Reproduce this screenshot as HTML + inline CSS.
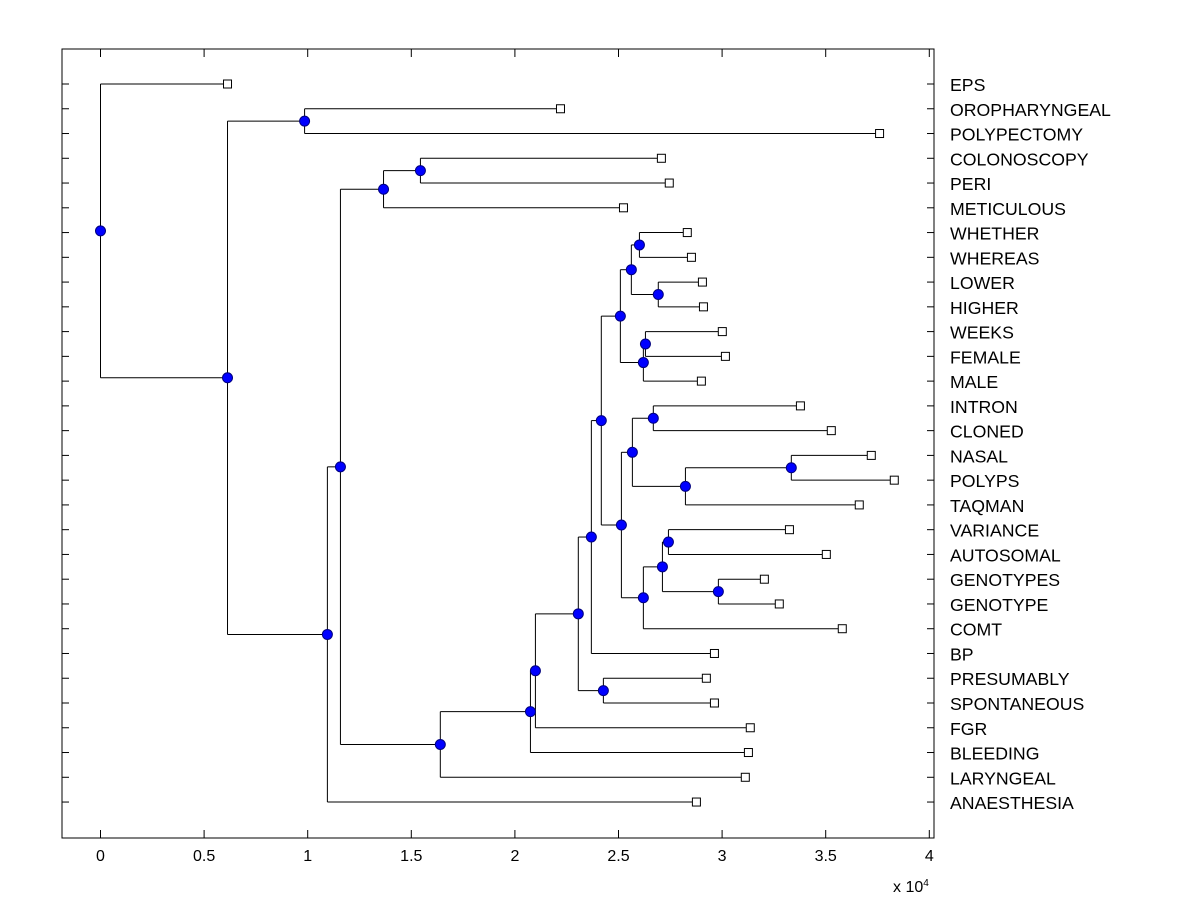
<!DOCTYPE html>
<html><head><meta charset="utf-8"><style>
body{margin:0;background:#fff}
svg text{font-family:"Liberation Sans",Arial,sans-serif;font-size:16px;fill:#000}
svg text.lbl{font-size:17.7px}
</style></head><body>
<svg id="c" width="1200" height="900">
<rect x="0" y="0" width="1200" height="900" fill="#fff"/>
</svg>
<script>
const labels=["EPS","OROPHARYNGEAL","POLYPECTOMY","COLONOSCOPY","PERI","METICULOUS","WHETHER","WHEREAS","LOWER","HIGHER","WEEKS","FEMALE","MALE","INTRON","CLONED","NASAL","POLYPS","TAQMAN","VARIANCE","AUTOSOMAL","GENOTYPES","GENOTYPE","COMT","BP","PRESUMABLY","SPONTANEOUS","FGR","BLEEDING","LARYNGEAL","ANAESTHESIA"];
const leafValues=[0.613,2.22,3.76,2.707,2.745,2.524,2.832,2.852,2.905,2.91,3.001,3.016,2.90,3.378,3.527,3.72,3.831,3.662,3.325,3.503,3.204,3.276,3.58,2.963,2.924,2.963,3.136,3.127,3.112,2.876];
// internal nodes: [name, value, child1, child2]; children: leaf index (number) or node name
const nodes=[
["root",0,0,"A"],["A",0.613,"B","C"],["B",0.985,1,2],["C",1.095,"D",29],
["D",1.158,"E","F"],["E",1.366,"G",5],["G",1.544,3,4],["F",1.64,"H",28],
["H",2.075,"I",27],["I",2.099,"J",26],["J",2.306,"K","L"],["L",2.427,24,25],
["K",2.369,"M",23],["M",2.417,"N","O"],["N",2.509,"P","Q"],["P",2.562,"R","S"],
["R",2.601,6,7],["S",2.692,8,9],["Q",2.62,"T",12],["T",2.63,10,11],
["O",2.514,"U","V"],["U",2.567,"W","X"],["W",2.668,13,14],["X",2.823,"Y",17],
["Y",3.334,15,16],["V",2.62,"Z",22],["Z",2.712,"AA","BB"],["AA",2.741,18,19],["BB",2.982,20,21]];
const xTicks=[0,0.5,1,1.5,2,2.5,3,3.5,4];

const svg=document.getElementById('c');const NS="http://www.w3.org/2000/svg";
const L=62,R=934,T=49,B=838;
const xs=v=>100.5+v*207.2;
const ys=i=>84+i*24.76;
function mk(t,a,p){const e=document.createElementNS(NS,t);for(const k in a)e.setAttribute(k,a[k]);(p||svg).appendChild(e);return e;}
const axes=mk('rect',{x:L,y:T,width:R-L,height:B-T,fill:'none',stroke:'#000','stroke-width':1});


xTicks.forEach(v=>{const x=xs(v);
 const t1=mk('line',{x1:x,y1:B,x2:x,y2:B-8,stroke:'#000'});
 
 
 const t2=mk('line',{x1:x,y1:T,x2:x,y2:T+8,stroke:'#000'});
 
 
 const tx=mk('text',{x:x,y:861,'text-anchor':'middle'});tx.textContent=String(v);
 
 
});
const ex=mk('text',{x:893,y:892,'font-size':'14'});ex.innerHTML='x 10<tspan dy="-6" font-size="10">4</tspan>';


labels.forEach((s,i)=>{const y=ys(i);
 const a=mk('line',{x1:L,y1:y,x2:L+7,y2:y,stroke:'#000'});
 
 
 const b=mk('line',{x1:R,y1:y,x2:R-7,y2:y,stroke:'#000'});
 
 
 const t=mk('text',{x:950,y:y+7,'class':'lbl'});t.textContent=s;
 
 
});
const nodeMap={};nodes.forEach(n=>nodeMap[n[0]]=n);
const linkG=mk('g',{});const markG=mk('g',{});
function pos(c){if(typeof c==='number')return [leafValues[c],ys(c)];
 const n=nodeMap[c];const a=pos(n[2]),b=pos(n[3]);return [n[1],(a[1]+b[1])/2];}
nodes.forEach(n=>{const p=pos(n[0]);const x=xs(p[0]);
 const c1=pos(n[2]),c2=pos(n[3]);
 const v=mk('line',{x1:x,y1:c1[1],x2:x,y2:c2[1],stroke:'#000'},linkG);
 
 
 [c1,c2].forEach(c=>{const h=mk('line',{x1:x,y1:c[1],x2:xs(c[0]),y2:c[1],stroke:'#000'},linkG);
  
  });
 const m=mk('circle',{cx:x,cy:p[1],r:5,fill:'#0000ff',stroke:'#00007f','stroke-width':1},markG);
 
 
});
leafValues.forEach((v,i)=>{const s=mk('rect',{x:xs(v)-4,y:ys(i)-4,width:8,height:8,fill:'#fff',stroke:'#000'},markG);
 
 
});
</script>
</body></html>
